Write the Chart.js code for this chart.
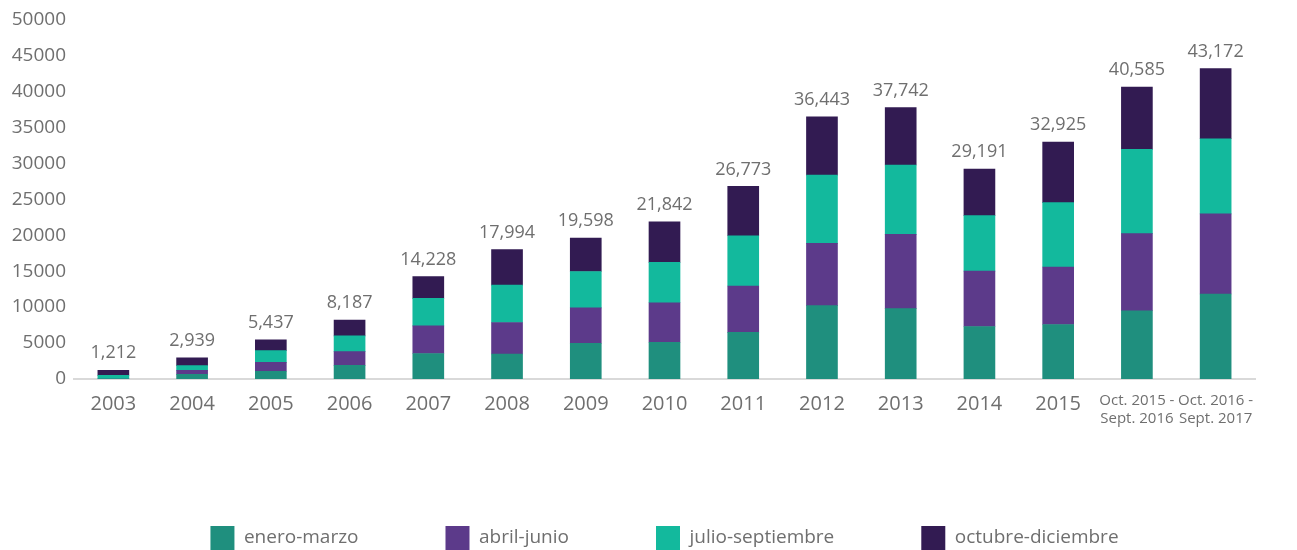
<!DOCTYPE html>
<html>
<head>
<meta charset="utf-8">
<script src="https://cdn.jsdelivr.net/npm/chart.js@4.4.1/dist/chart.umd.min.js"></script>
<style>
  body { margin: 0; background: #fff; }
  #wrap { width: 1297px; height: 550px; }
</style>
</head>
<body>
<div id="wrap"><canvas id="chart" width="1297" height="550"></canvas></div>
<script>
// data
const periods = ["2003", "2004", "2005", "2006", "2007", "2008", "2009", "2010", "2011", "2012", "2013", "2014", "2015",
  ["Oct. 2015 -", "Sept. 2016"], ["Oct. 2016 -", "Sept. 2017"]];
const eneroMarzo = [0, 650, 1080, 1900, 3550, 3470, 4965, 5115, 6485, 10206, 9780, 7298, 7577, 9493, 11824];
const abrilJunio = [0, 550, 1230, 1900, 3830, 4385, 4920, 5485, 6440, 8655, 10330, 7711, 7990, 10731, 11137];
const julioSeptiembre = [500, 650, 1640, 2190, 3830, 5205, 5060, 5620, 6990, 9479, 9640, 7711, 8954, 11694, 10449];
const octubreDiciembre = [712, 1089, 1487, 2197, 3018, 4934, 4653, 5622, 6858, 8103, 7992, 6471, 8404, 8667, 9762];

const seriesNames = ["enero-marzo", "abril-junio", "julio-septiembre", "octubre-diciembre"];
const seriesColors = ["#1f8f7e", "#5c3a8a", "#13b99d", "#321b52"];
const seriesData = [eneroMarzo, abrilJunio, julioSeptiembre, octubreDiciembre];

const FONT = "'Open Sans', sans-serif";
const GREY = "#6f6f6f";

// totals above each stack
const totalsPlugin = {
  id: "totals",
  afterDatasetsDraw(chart) {
    const { ctx } = chart;
    const last = chart.getDatasetMeta(chart.data.datasets.length - 1);
    ctx.save();
    ctx.font = "18px " + FONT;
    ctx.fillStyle = GREY;
    ctx.textAlign = "center";
    ctx.textBaseline = "bottom";
    last.data.forEach((bar, i) => {
      const total = seriesData.reduce((s, arr) => s + arr[i], 0);
      ctx.fillText(total.toLocaleString("en-US"), bar.x, bar.y - 8);
    });
    ctx.restore();
  },
};

new Chart(document.getElementById("chart"), {
  type: "bar",
  data: {
    labels: periods,
    datasets: seriesNames.map((name, k) => ({
      label: name,
      data: seriesData[k],
      backgroundColor: seriesColors[k],
      barThickness: 31,
    })),
  },
  options: {
    responsive: false,
    animation: false,
    layout: { padding: { left: 4, right: 42, top: 4, bottom: -10 } },
    scales: {
      x: {
        stacked: true,
        grid: { display: false },
        border: { display: true, color: "#d9d9d9", width: 2 },
        ticks: {
          color: GREY,
          // the two long labels a bit smaller so they don't run into each other
          font: (c) => ({ family: FONT, size: c.index > 12 ? 15 : 20 }),
          padding: 5,
          maxRotation: 0,
          autoSkip: false,
        },
        afterFit(scale) {
          scale.height += 6;
        },
      },
      y: {
        stacked: true,
        min: 0,
        max: 50000,
        grid: { display: false, drawTicks: false },
        border: { display: false },
        ticks: {
          stepSize: 5000,
          color: GREY,
          font: { family: FONT, size: 19 },
          padding: 8,
          callback: (v) => String(v),
        },
        afterFit(scale) {
          scale.width = 70;
        },
      },
    },
    plugins: {
      legend: {
        position: "bottom",
        fullSize: false,
        labels: {
          boxWidth: 24,
          boxHeight: 24,
          padding: 87,
          color: GREY,
          font: { family: FONT, size: 19 },
        },
      },
      tooltip: { enabled: false },
    },
  },
  plugins: [totalsPlugin],
});
</script>
</body>
</html>
